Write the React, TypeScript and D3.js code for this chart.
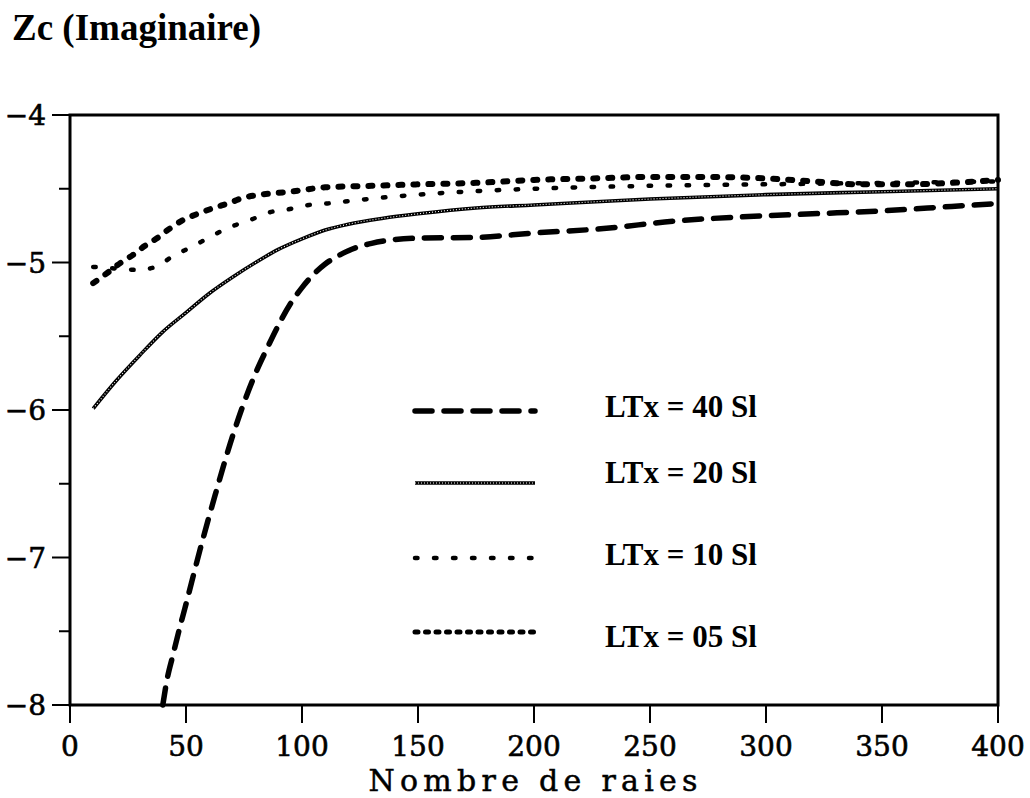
import React from 'react';
import * as d3 from 'd3';

const xTicks = [0, 50, 100, 150, 200, 250, 300, 350, 400];
const yTicks = [-4, -5, -6, -7, -8];
const yMinorTicks = [-4.5, -5.5, -6.5, -7.5];

const x40 = [40, 41.8, 44.4, 47.4, 49.6, 56, 62.5, 70, 75, 80, 85, 90, 95, 100, 105, 110, 115, 120, 130, 140, 150, 175, 200, 230, 260, 290, 320, 350, 380, 400];
const y40 = [-8, -7.83, -7.66, -7.47, -7.34, -6.95, -6.58, -6.18, -5.95, -5.75, -5.58, -5.42, -5.28, -5.17, -5.08, -5.01, -4.96, -4.92, -4.87, -4.845, -4.835, -4.83, -4.80, -4.77, -4.72, -4.69, -4.67, -4.65, -4.62, -4.60];

const x20 = [10, 20, 30, 40, 50, 60, 70, 80, 90, 100, 110, 120, 135, 150, 175, 200, 250, 300, 350, 400];
const y20 = [-5.99, -5.80, -5.63, -5.47, -5.34, -5.21, -5.10, -5.00, -4.91, -4.84, -4.78, -4.74, -4.70, -4.67, -4.63, -4.61, -4.57, -4.54, -4.52, -4.50];

const x10 = [10, 19, 29, 37, 44, 53, 60, 69, 78, 86, 94, 103, 111, 122, 150, 200, 250, 300, 350, 400];
const y10 = [-5.03, -5.04, -5.05, -5.03, -4.96, -4.89, -4.83, -4.76, -4.71, -4.66, -4.64, -4.61, -4.60, -4.58, -4.54, -4.50, -4.48, -4.47, -4.46, -4.45];

const x05 = [10, 17, 22, 27, 32, 38, 43, 49, 55, 62, 68, 75, 82, 95, 110, 130, 150, 175, 200, 225, 250, 275, 300, 320, 340, 360, 380, 400];
const y05 = [-5.14, -5.06, -5.00, -4.95, -4.89, -4.83, -4.77, -4.71, -4.67, -4.63, -4.60, -4.56, -4.54, -4.52, -4.49, -4.48, -4.47, -4.46, -4.44, -4.43, -4.42, -4.42, -4.43, -4.45, -4.47, -4.47, -4.46, -4.44];

const legendLabels = ['LTx = 40 Sl', 'LTx = 20 Sl', 'LTx = 10 Sl', 'LTx = 05 Sl'];

const W = 1030, H = 798;
const left = 70, right = 998, top = 115, bottom = 705;
const TICK_FONT = "'DejaVu Serif', 'Liberation Serif', serif";
const BOLD_FONT = "'Liberation Serif', 'Times New Roman', serif";

export default function App() {
  const xs = d3.scaleLinear().domain([0, 400]).range([left, right]);
  const ys = d3.scaleLinear().domain([-8, -4]).range([bottom, top]);
  const line = d3.line<[number, number]>().x(d => xs(d[0])).y(d => ys(d[1])).curve(d3.curveMonotoneX);
  const mk = (xa: number[], ya: number[]) => line(xa.map((v, i) => [v, ya[i]] as [number, number])) || '';

  const p40 = mk(x40, y40);
  const p20 = mk(x20, y20);
  const p10 = mk(x10, y10);
  const p05 = mk(x05, y05);

  const s40 = { stroke: '#000', strokeWidth: 5.5, fill: 'none', strokeDasharray: '17 12', strokeLinecap: 'round' as const };
  const s10 = { stroke: '#000', strokeWidth: 4.5, fill: 'none', strokeDasharray: '2.5 16.5', strokeLinecap: 'round' as const };
  const s05 = { stroke: '#000', strokeWidth: 6, fill: 'none', strokeDasharray: '4 11', strokeLinecap: 'round' as const };
  const s20a = { stroke: '#000', strokeWidth: 3.6, fill: 'none' };
  const s20b = { stroke: '#fff', strokeWidth: 1.1, fill: 'none', strokeDasharray: '1 2' };

  const legendText = [417, 483, 565, 647];
  const legendLine = [411, 483, 558, 632];
  const lx0 = 415, lx1 = 535;

  return (
    <svg width={W} height={H} style={{ position: 'absolute', left: 0, top: 0, background: '#fff' }}>
      <rect x={0} y={0} width={W} height={H} fill="#fff" />
      <text x={12} y={40} fontFamily={BOLD_FONT} fontWeight="bold" fontSize={37}>Zc (Imaginaire)</text>

      {/* frame */}
      <rect x={left} y={top} width={right - left} height={bottom - top} fill="none" stroke="#000" strokeWidth={3} />

      {/* y ticks */}
      {yTicks.map(t => (
        <g key={'y' + t}>
          <line x1={52} x2={left} y1={ys(t)} y2={ys(t)} stroke="#000" strokeWidth={2} />
          <text x={46} y={ys(t)} dy="0.36em" textAnchor="end" fontFamily={TICK_FONT} fontSize={28} stroke="#000" strokeWidth={0.6}>{'\u2212' + Math.abs(t)}</text>
        </g>
      ))}
      {yMinorTicks.map(t => (
        <line key={'ym' + t} x1={59} x2={left} y1={ys(t)} y2={ys(t)} stroke="#000" strokeWidth={2} />
      ))}

      {/* x ticks */}
      {xTicks.map(t => (
        <g key={'x' + t}>
          <line x1={xs(t)} x2={xs(t)} y1={bottom} y2={bottom + 18} stroke="#000" strokeWidth={2} />
          <text x={xs(t)} y={756} textAnchor="middle" fontFamily={TICK_FONT} fontSize={28} stroke="#000" strokeWidth={0.6}>{t}</text>
        </g>
      ))}
      <text x={533} y={791} textAnchor="middle" textLength={329} lengthAdjust="spacing" fontFamily={TICK_FONT} fontSize={30} stroke="#000" strokeWidth={0.5}>Nombre de raies</text>

      {/* series */}
      <path d={p20} style={s20a} />
      <path d={p20} style={s20b} />
      <path d={p10} style={s10} />
      <path d={p05} style={s05} />
      <path d={p40} style={s40} />

      {/* legend */}
      <line x1={lx0} x2={lx1} y1={legendLine[0]} y2={legendLine[0]} style={s40} />
      <line x1={lx0} x2={lx1} y1={legendLine[1]} y2={legendLine[1]} style={s20a} />
      <line x1={lx0} x2={lx1} y1={legendLine[1]} y2={legendLine[1]} style={s20b} />
      <line x1={lx0} x2={lx1} y1={legendLine[2]} y2={legendLine[2]} style={s10} />
      <line x1={lx0} x2={lx1} y1={legendLine[3]} y2={legendLine[3]} style={{ ...s05, strokeDasharray: '3 7.5', strokeWidth: 5 }} />
      {legendLabels.map((l, i) => (
        <text key={l} x={605} y={legendText[i]} fontFamily={BOLD_FONT} fontWeight="bold" fontSize={31}>{l}</text>
      ))}
    </svg>
  );
}
